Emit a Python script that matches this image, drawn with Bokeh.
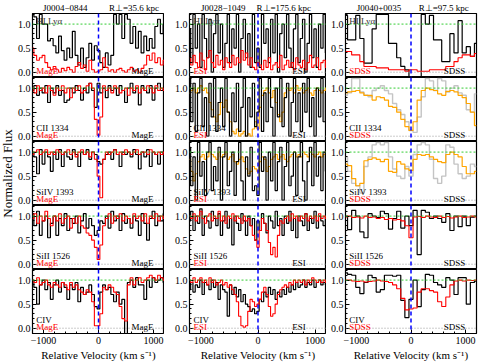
import math
from bokeh.plotting import figure
from bokeh.layouts import gridplot, row
from bokeh.models import Span, Label, FixedTicker, Range1d, PrintfTickFormatter
from bokeh.embed import file_html
from bokeh.resources import INLINE

# ---------------- velocity grids (km/s) ----------------
vel_mage = [-1200, -1150, -1100, -1050, -1000, -950, -900, -850, -800, -750,
            -700, -650, -600, -550, -500, -450, -400, -350, -300, -250,
            -200, -150, -100, -50, 0, 50, 100, 150, 200, 250,
            300, 350, 400, 450, 500, 550, 600, 650, 700, 750,
            800, 850, 900, 950, 1000, 1050, 1100, 1150, 1200]
vel_esi = [-1200, -1160, -1120, -1080, -1040, -1000, -960, -920, -880, -840,
           -800, -760, -720, -680, -640, -600, -560, -520, -480, -440,
           -400, -360, -320, -280, -240, -200, -160, -120, -80, -40,
           0, 40, 80, 120, 160, 200, 240, 280, 320, 360,
           400, 440, 480, 520, 560, 600, 640, 680, 720, 760,
           800, 840, 880, 920, 960, 1000, 1040, 1080, 1120, 1160,
           1200]
vel_sdss = [-1200, -1125, -1050, -975, -900, -825, -750, -675, -600, -525,
            -450, -375, -300, -225, -150, -75, 0, 75, 150, 225,
            300, 375, 450, 525, 600, 675, 750, 825, 900, 975,
            1050, 1125, 1200]

# ---------------- J0004-0844 (MagE) ----------------
hi1_obj = [1.2, 1.15, 0.7, 1.2, 1.0, 1.0, 0.65, 0.7, 0.55, 0.4,
           0.75, 0.45, 0.25, 0.5, 0.3, 0.85, 0.35, 0.15, 0.5, 0.1,
           0.3, 0.6, 0.25, 0.55, 0.45, 0.2, 0.1, 0.4, 0.15, 0.35,
           1.2, 1.0, 1.2, 0.7, 1.2, 1.1, 0.6, 0.95, 0.5, 0.85,
           0.4, 0.75, 0.45, 0.7, 0.5, 0.95, 1.1, 0.8, 1.0]
hi1_cmp = [0.5, 0.35, 0.25, 0.3, 0.35, 0.2, 0.1, 0.05, 0.12, 0.05,
           0.0, 0.08, 0.03, 0.1, 0.05, 0.0, 0.12, 0.2, 0.08, 0.15,
           0.02, 0.25, 0.05, 0.0, 0.02, 0.05, 0.3, 0.1, 0.02, 0.05,
           0.0, 0.05, 0.08, 0.03, 0.0, 0.05, 0.1, 0.02, 0.05, 0.0,
           0.08, 0.15, 0.35, 0.25, 0.4, 0.2, 0.3, 0.15, 0.25]
c2_1_obj = [0.95, 1.05, 0.85, 1.0, 0.9, 1.05, 0.7, 1.0, 0.9, 1.05,
            0.85, 0.95, 0.7, 0.75, 1.0, 0.9, 1.05, 0.95, 0.75, 1.0,
            0.9, 1.1, 0.95, 0.6, 1.1, 0.9, 1.0, 0.8, 1.05, 0.95,
            1.0, 0.85, 1.05, 0.95, 0.7, 1.0, 1.1, 0.9, 1.0, 0.65,
            1.05, 0.95, 0.9, 1.05, 0.75, 1.0, 1.1, 0.95, 1.0]
c2_1_cmp = [1.0, 0.9, 1.05, 0.95, 1.0, 0.9, 1.05, 0.95, 0.85, 1.0,
            0.95, 1.05, 0.9, 1.0, 0.8, 1.0, 0.95, 1.05, 0.9, 0.95,
            1.05, 1.1, 1.0, 0.35, 0.02, 0.4, 1.05, 0.95, 1.0, 0.9,
            1.05, 1.0, 0.9, 0.95, 1.0, 0.85, 1.0, 0.95, 1.05, 0.9,
            1.0, 0.95, 1.05, 1.0, 0.9, 1.05, 0.95, 1.0, 0.95]
s4_1_obj = [1.0, 0.9, 0.55, 1.05, 0.75, 1.0, 0.9, 0.6, 1.0, 0.85,
            1.05, 0.7, 1.0, 0.9, 0.85, 1.05, 0.95, 0.7, 1.0, 0.95,
            1.05, 0.85, 1.0, 0.95, 0.8, 0.75, 0.85, 0.95, 1.0, 0.85,
            1.05, 0.95, 0.7, 1.0, 0.95, 1.0, 0.9, 1.05, 0.95, 0.65,
            1.0, 0.9, 1.05, 0.7, 1.0, 0.95, 0.75, 1.0, 0.95]
s4_1_cmp = [0.95, 1.0, 1.05, 0.95, 1.0, 1.05, 0.95, 1.0, 0.95, 1.05,
            1.0, 0.95, 1.0, 1.05, 0.95, 1.0, 0.9, 1.0, 1.05, 0.95,
            1.0, 0.9, 1.0, 0.85, 0.5, 0.05, 0.85, 1.0, 0.95, 1.0,
            1.05, 0.95, 1.0, 0.95, 1.05, 1.0, 0.95, 1.0, 1.05, 0.95,
            1.0, 1.0, 0.95, 1.05, 1.0, 0.95, 1.0, 0.95, 1.0]
s2_1_obj = [1.05, 0.8, 1.1, 0.6, 0.9, 1.0, 0.55, 0.85, 1.0, 0.6,
            0.95, 0.8, 1.05, 0.7, 0.95, 0.85, 1.0, 0.65, 0.9, 1.05,
            0.75, 0.95, 0.8, 0.6, 0.7, 0.9, 0.85, 1.0, 0.75, 1.1,
            0.9, 1.0, 0.7, 1.05, 0.85, 0.95, 0.75, 1.0, 0.9, 0.6,
            1.05, 0.85, 0.5, 0.95, 1.1, 0.8, 1.0, 0.9, 1.05]
s2_1_cmp = [0.95, 1.05, 0.85, 1.0, 0.9, 1.1, 0.95, 0.8, 1.0, 0.9,
            1.05, 0.85, 0.95, 1.0, 0.75, 0.95, 0.85, 1.0, 0.8, 0.75,
            0.65, 0.6, 0.5, 0.35, 0.1, 0.4, 0.8, 0.95, 1.05, 0.85,
            1.0, 0.95, 1.05, 0.9, 1.0, 0.95, 0.85, 1.05, 0.95, 1.0,
            0.9, 1.05, 0.85, 1.0, 0.95, 1.05, 0.9, 1.0, 0.95]
c4_1_obj = [1.0, 0.85, 0.5, 0.9, 1.0, 0.8, 0.95, 0.6, 0.9, 1.0,
            0.75, 0.95, 0.85, 0.6, 0.9, 0.8, 0.95, 0.55, 0.85, 0.7,
            0.75, 0.9, 0.7, 0.45, 0.4, 0.75, 0.9, 0.8, 0.85, 0.7,
            0.55, 0.75, 0.5, 0.6, -0.15, 0.95, 1.0, 0.85, 1.05, 0.9,
            0.9, 0.6, 1.0, 0.85, 1.05, 0.95, 1.0, 1.05, 0.95]
c4_1_cmp = [1.0, 0.95, 1.05, 0.9, 0.95, 1.0, 0.9, 0.85, 0.95, 0.9,
            0.85, 0.95, 0.9, 0.8, 0.95, 0.85, 0.9, 0.8, 0.75, 0.7,
            0.8, 0.75, 0.55, 0.05, 0.05, 0.3, 0.85, 0.8, 0.9, 0.85,
            0.75, 0.7, 0.45, 0.2, 0.15, 0.9, 1.05, 0.9, 1.0, 1.05,
            0.95, 1.0, 1.05, 1.1, 1.05, 1.0, 1.1, 1.05, 1.0]

# ---------------- J0028-1049 (ESI) ----------------
hi2_obj = [0.9, 0.2, 1.2, 0.5, 1.0, 0.1, 1.2, 0.7, 0.3, 1.1,
           0.0, 0.8, 1.2, 0.4, 1.0, 0.1, 0.6, 1.2, 0.2, 0.9,
           0.5, 1.2, 0.0, 0.7, 1.1, 0.3, 0.8, 0.1, 1.2, 0.2,
           0.5, 0.1, 1.2, 0.6, 0.9, 0.2, 1.1, 0.4, 1.2, 0.0,
           0.8, 1.0, 0.3, 1.2, 0.5, 0.1, 0.9, 1.2, 0.2, 0.7,
           1.1, 0.0, 0.6, 1.2, 0.3, 0.9, 0.1, 1.0, 0.5, 1.2,
           0.4]
hi2_cmp = [0.3, 0.15, 0.35, 0.2, 0.1, 0.4, 0.25, 0.05, 0.3, 0.45,
           0.2, 0.1, 0.35, 0.15, 0.25, 0.05, 0.3, 0.2, 0.1, 0.35,
           0.15, 0.3, 0.2, 0.45, 0.25, 0.4, 0.15, 0.3, 0.1, 0.05,
           0.2, 0.15, 0.05, 0.25, 0.1, 0.3, 0.05, 0.15, 0.2, 0.1,
           0.35, 0.05, 0.15, 0.25, 0.1, 0.2, 0.05, 0.3, 0.15, 0.1,
           0.25, 0.05, 0.2, 0.35, 0.1, 0.15, 0.3, 0.05, 0.2, 0.25,
           0.1]
c2_2_obj = [1.2, 0.3, 1.1, 0.1, 0.9, 1.2, 0.2, 0.8, 0.0, 1.1,
            0.4, 1.2, 0.1, 0.7, 1.0, 0.2, 1.2, 0.5, 0.0, 0.9,
            0.3, 1.1, 0.1, 0.6, 1.2, 0.0, 0.8, 0.4, 1.1, 0.2,
            0.5, 1.2, 0.1, 0.9, 0.3, 1.2, 0.6, 0.0, 1.0, 0.4,
            1.2, 0.2, 0.8, 1.1, 0.0, 0.7, 1.2, 0.3, 0.9, 0.1,
            1.1, 0.5, 1.2, 0.2, 0.8, 0.0, 1.0, 0.4, 1.2, 0.3,
            0.9]
c2_2_alt = [0.9, 0.95, 1.0, 0.9, 1.0, 1.05, 0.95, 1.0, 0.9, 0.7,
            0.55, 0.4, 0.3, 0.45, 0.7, 0.6, 0.75, 0.5, 0.3, 0.1,
            0.05, 0.15, 0.0, 0.05, 0.1, 0.0, 0.05, 0.0, 0.15, 0.3,
            0.15, 0.6, 0.85, 0.95, 1.0, 0.9, 0.8, 0.95, 0.7, 0.45,
            0.3, 0.5, 0.9, 1.0, 0.95, 1.0, 0.9, 1.05, 0.95, 1.0,
            0.9, 0.95, 1.0, 0.9, 0.85, 0.95, 1.0, 0.95, 0.9, 0.95,
            1.0]
s4_2_obj = [1.1, 0.3, 0.9, 0.0, 1.2, 0.5, 0.8, 0.1, 1.0, 1.2,
            0.2, 0.7, 0.4, 1.1, 0.0, 0.9, 1.2, 0.3, 0.6, 1.0,
            0.1, 0.8, 1.2, 0.4, 0.0, 0.9, 0.5, 1.1, 0.2, 0.3,
            0.1, 1.2, 0.6, 0.9, 0.0, 1.0, 0.4, 1.2, 0.2, 0.8,
            1.1, 0.0, 0.7, 1.2, 0.3, 0.5, 1.0, 0.1, 0.9, 1.2,
            0.4, 0.0, 0.8, 1.1, 0.3, 1.2, 0.5, 0.9, 0.2, 1.0,
            0.6]
s4_2_alt = [0.85, 0.6, 0.4, 0.55, 0.8, 0.9, 0.95, 0.85, 0.9, 1.0,
            0.95, 0.9, 0.85, 1.0, 0.9, 0.95, 1.0, 0.85, 0.9, 0.95,
            0.8, 0.75, 0.85, 0.9, 0.8, 0.65, 0.55, 0.6, 0.7, 0.65,
            0.6, 0.8, 0.9, 0.85, 0.6, 0.7, 0.85, 0.9, 0.95, 0.85,
            0.9, 0.95, 0.85, 0.8, 0.9, 0.95, 1.0, 0.9, 0.95, 0.9,
            1.0, 0.95, 0.9, 1.0, 0.95, 0.9, 0.95, 1.0, 0.9, 0.95,
            1.0]
s2_2_obj = [0.9, 1.1, 0.7, 1.0, 0.85, 1.15, 0.6, 1.0, 0.9, 0.75,
            1.1, 0.95, 0.8, 1.05, 0.6, 0.9, 1.1, 0.75, 0.95, 0.4,
            1.0, 0.85, 0.7, 1.05, 0.9, 0.6, 1.0, 0.8, 0.95, 0.5,
            0.9, 0.7, 1.05, 0.85, 0.65, 1.0, 0.9, 0.75, 1.1, 0.8,
            0.95, 0.6, 1.0, 0.85, 1.1, 0.7, 0.95, 0.55, 1.0, 0.9,
            0.8, 1.05, 0.7, 0.95, 0.85, 1.1, 0.75, 1.0, 0.9, 0.8,
            1.0]
s2_2_cmp = [1.0, 0.95, 1.05, 0.9, 1.0, 1.1, 0.95, 0.85, 1.0, 1.05,
            0.9, 1.0, 0.95, 1.1, 0.9, 1.0, 0.85, 1.0, 0.95, 1.05,
            0.9, 1.0, 0.95, 0.85, 1.0, 0.9, 0.95, 0.8, 0.6, 0.5,
            0.35, 0.7, 0.95, 0.85, 0.7, 0.45, 0.2, 0.35, 0.15, 0.6,
            0.9, 0.85, 0.95, 1.0, 0.9, 1.05, 0.95, 1.0, 0.9, 1.0,
            0.95, 1.05, 0.9, 1.0, 0.95, 1.0, 0.9, 1.05, 0.95, 1.0,
            0.95]
c4_2_obj = [0.8, 0.95, 0.75, 0.9, 0.85, 1.0, 0.7, 0.95, 0.9, 0.8,
            1.0, 0.85, 0.95, 0.6, 0.9, 0.8, 0.75, 0.25, 0.9, 0.7,
            0.85, 0.65, 0.8, 0.55, 0.7, 0.5, 0.45, 0.35, 0.4, 0.3,
            0.35, 0.6, 0.55, 0.75, 0.65, 0.85, 0.7, 0.8, 0.6, 0.75,
            0.65, 0.8, 0.7, 0.85, 0.75, 0.9, 0.8, 0.95, 0.85, 0.9,
            1.0, 0.85, 0.95, 0.9, 1.0, 0.85, 0.95, 1.0, 0.9, 0.95,
            0.9]
c4_2_cmp = [1.0, 0.95, 1.05, 0.95, 1.0, 1.05, 0.95, 1.0, 0.9, 1.05,
            0.95, 1.0, 0.9, 0.95, 1.0, 0.9, 0.95, 0.85, 0.9, 0.8,
            0.7, 0.55, 0.25, 0.05, 0.02, 0.05, 0.35, 0.6, 0.55, 0.45,
            0.5, 0.6, 0.75, 0.85, 0.7, 0.45, 0.25, 0.3, 0.5, 0.7,
            0.8, 0.85, 0.9, 0.85, 0.95, 0.9, 1.0, 0.95, 1.0, 0.95,
            1.0, 0.9, 1.0, 0.95, 1.05, 1.0, 0.95, 1.0, 0.95, 1.0,
            0.95]

# ---------------- J0040+0035 (SDSS) ----------------
hi3_obj = [1.18, 0.67, 0.67, 1.18, 0.7, 0.19, 0.19, 0.9, 1.2, 1.2,
           1.2, 0.6, 0.6, 0.3, 0.12, 0.05, -0.15, -0.15, -0.15, 1.2,
           1.0, 1.18, 0.67, 0.67, 0.22, 0.22, 0.8, 0.4, 1.07, 0.4,
           0.53, 0.33, 0.6]
hi3_cmp = [0.43, 0.43, 0.36, 0.36, 0.22, 0.12, 0.12, 0.12, 0.09, 0.09,
           0.09, 0.05, 0.05, 0.05, 0.05, 0.02, 0.05, 0.05, 0.02, 0.02,
           0.02, 0.05, 0.05, 0.05, 0.05, 0.12, 0.12, 0.22, 0.3, 0.36,
           0.36, 0.33, 0.39]
c2_3_gray = [0.85, 0.9, 1.2, 1.2, 0.92, 0.85, 0.82, 0.95, 1.0, 1.05,
             0.95, 0.88, 0.68, 0.55, 0.45, 0.3, 0.12, 0.08, 0.4, 0.82,
             1.2, 1.15, 0.95, 1.2, 1.15, 0.92, 1.0, 1.05, 0.9, 0.85,
             0.55, 0.5, 0.88]
c2_3_alt = [0.9, 0.92, 0.93, 0.95, 0.9, 0.85, 0.85, 0.75, 0.82, 0.8,
            0.75, 0.62, 0.6, 0.5, 0.35, 0.2, 0.12, 0.3, 0.75, 0.95,
            1.0, 0.97, 0.95, 0.88, 0.85, 0.93, 0.95, 0.92, 0.85, 0.8,
            0.68, 0.5, 0.22]
s4_3_gray = [0.9, 0.6, 0.35, 0.3, 0.15, 0.7, 0.9, 1.15, 1.2, 1.15,
             1.2, 0.9, 0.65, 0.5, 0.45, 0.7, 0.5, 0.95, 1.15, 1.2,
             1.15, 0.85, 0.45, 0.35, 0.5, 1.15, 1.1, 0.75, 0.55, 0.45,
             0.5, 0.75, 0.7]
s4_3_alt = [0.75, 0.72, 0.45, 0.3, 0.35, 0.82, 0.85, 0.88, 0.85, 0.8,
            0.85, 0.6, 0.58, 0.8, 0.75, 0.65, 0.62, 0.85, 0.95, 0.93,
            0.95, 0.9, 0.85, 0.8, 0.78, 0.95, 1.0, 0.95, 0.9, 0.7,
            0.55, 0.55, 0.6]
s2_3_obj = [1.0, 0.72, 1.12, 1.0, 0.67, 0.55, 1.05, 1.0, 0.97, 1.1,
            1.05, 0.73, 0.95, 1.1, 0.75, 1.0, 0.8, 1.12, 0.2, 1.12,
            1.08, 0.95, 1.0, 0.95, 0.87, 1.05, 0.7, 1.0, 0.78, 1.0,
            0.8, 0.98, 1.0]
s2_3_cmp = [0.98, 1.0, 0.97, 0.98, 0.96, 1.0, 0.97, 0.98, 0.95, 0.97,
            0.93, 0.95, 0.92, 0.93, 0.9, 0.8, 0.55, 0.98, 0.99, 0.97,
            1.0, 0.98, 0.97, 1.0, 0.97, 0.99, 0.96, 0.98, 1.0, 0.97,
            0.98, 1.0, 0.98]
c4_3_obj = [1.15, 1.12, 1.1, 0.85, 0.72, 0.95, 1.1, 1.05, 0.75, 0.8,
            1.1, 1.1, 1.08, 1.1, 0.58, 0.22, 0.6, 1.0, 0.45, 0.8,
            1.12, 1.1, 0.95, 0.9, 0.85, 1.05, 1.0, 0.7, 1.05, 1.05,
            0.5, 0.95, 0.98]
c4_3_cmp = [1.0, 1.0, 0.98, 0.97, 0.98, 0.96, 0.97, 0.98, 1.0, 0.98,
            0.97, 0.95, 0.9, 0.82, 0.62, 0.38, 0.4, 0.42, 0.75, 0.82,
            0.82, 0.78, 0.75, 0.55, 0.45, 0.65, 0.9, 0.98, 1.0, 0.98,
            1.0, 0.99, 1.0]

# ---------------- labels ----------------
sightlines = ["J0004\u22120844", "J0028\u22121049", "J0040+0035"]
impact = ["R\u22a5=35.6 kpc", "R\u22a5=175.6 kpc", "R\u22a5=97.5 kpc"]
instruments = ["MagE", "ESI", "SDSS"]
ions = ["HI Ly\u03b1", "CII 1334", "SiIV 1393", "SiII 1526", "CIV"]
y_ticks = [0.0, 0.5, 1.0]
x_ticks = [-1000, 0, 1000]

STYLE = {"black": ("black", 1.2), "red": ("#ff0000", 1.1),
         "orange": ("#ffa500", 1.2), "gray": ("#c4c4c4", 1.4)}

columns = [
    (vel_mage, [[(hi1_obj, "black"), (hi1_cmp, "red")],
                [(c2_1_obj, "black"), (c2_1_cmp, "red")],
                [(s4_1_obj, "black"), (s4_1_cmp, "red")],
                [(s2_1_obj, "black"), (s2_1_cmp, "red")],
                [(c4_1_obj, "black"), (c4_1_cmp, "red")]]),
    (vel_esi, [[(hi2_obj, "black"), (hi2_cmp, "red")],
               [(c2_2_alt, "orange"), (c2_2_obj, "black")],
               [(s4_2_alt, "orange"), (s4_2_obj, "black")],
               [(s2_2_obj, "black"), (s2_2_cmp, "red")],
               [(c4_2_obj, "black"), (c4_2_cmp, "red")]]),
    (vel_sdss, [[(hi3_obj, "black"), (hi3_cmp, "red")],
                [(c2_3_gray, "gray"), (c2_3_alt, "orange")],
                [(s4_3_gray, "gray"), (s4_3_alt, "orange")],
                [(s2_3_obj, "black"), (s2_3_cmp, "red")],
                [(c4_3_obj, "black"), (c4_3_cmp, "red")]]),
]

FONT = "Liberation Serif"
FRAME_W = [132, 137, 131]
BORDER_L = [17, 25, 19]
BORDER_R = [0, 0, 2]
FRAME_H = 64
TITLE_H = 13
title_nx = [-1010, -1000, -995]      # left end of the sight-line name
title_rx = [1100, 930, 1060]         # right end of the impact parameter

grid = []

# title row (same geometry as the panels below it)
title_row = []
for c in range(3):
    t = figure(frame_width=FRAME_W[c], frame_height=TITLE_H,
               x_range=Range1d(-1200, 1200), y_range=Range1d(0, 1),
               output_backend="svg", toolbar_location=None,
               min_border=0, min_border_left=BORDER_L[c], min_border_right=BORDER_R[c])
    t.axis.visible = False
    t.grid.visible = False
    t.outline_line_color = None
    t.add_layout(Label(x=title_nx[c], y=0.45, text=sightlines[c], text_font=FONT,
                       text_font_size="9px", text_color="black",
                       text_align="left", text_baseline="middle"))
    t.add_layout(Label(x=title_rx[c], y=0.45, text=impact[c], text_font=FONT,
                       text_font_size="9px", text_color="black",
                       text_align="right", text_baseline="middle"))
    title_row.append(t)
grid.append(title_row)

for r in range(5):
    row_figs = []
    for c in range(3):
        vel, panels = columns[c]
        p = figure(frame_width=FRAME_W[c], frame_height=FRAME_H,
                   x_range=Range1d(-1200, 1200), y_range=Range1d(-0.11, 1.22),
                   output_backend="svg", toolbar_location=None,
                   min_border=0, min_border_left=BORDER_L[c],
                   min_border_right=BORDER_R[c])
        p.grid.visible = False
        p.outline_line_color = "black"
        p.outline_line_width = 1.2
        # y axis
        p.yaxis.ticker = FixedTicker(ticks=y_ticks,
                                     minor_ticks=[-0.1, 0.1, 0.2, 0.3, 0.4, 0.6, 0.7, 0.8, 0.9, 1.1, 1.2])
        p.yaxis.formatter = PrintfTickFormatter(format="%.1f")
        p.yaxis.axis_line_color = None
        p.yaxis.major_tick_in = 4
        p.yaxis.major_tick_out = 0
        p.yaxis.minor_tick_in = 2
        p.yaxis.minor_tick_out = 0
        p.yaxis.major_label_standoff = 2
        p.yaxis.major_label_text_font = FONT
        p.yaxis.major_label_text_font_size = "10px"
        p.yaxis.major_label_text_color = "black"
        # x axis
        if r < 4:
            p.xaxis.visible = False
        else:
            p.xaxis.ticker = FixedTicker(ticks=x_ticks,
                                         minor_ticks=[-1200, -800, -600, -400, -200, 200, 400, 600, 800, 1200])
            p.xaxis.major_label_overrides = {-1000: "\u22121000", 0: "0", 1000: "1000"}
            p.xaxis.axis_line_color = None
            p.xaxis.major_tick_in = 4
            p.xaxis.major_tick_out = 0
            p.xaxis.minor_tick_in = 2
            p.xaxis.minor_tick_out = 0
            p.xaxis.major_label_standoff = 3
            p.xaxis.major_label_text_font = FONT
            p.xaxis.major_label_text_font_size = "10px"
            p.xaxis.major_label_text_color = "black"
            p.xaxis.axis_label = "Relative Velocity (km s\u207b\u00b9)"
            p.xaxis.axis_label_text_font = FONT
            p.xaxis.axis_label_text_font_size = "11px"
            p.xaxis.axis_label_text_font_style = "normal"
            p.xaxis.axis_label_text_color = "black"
            p.xaxis.axis_label_standoff = 2

        for flux, kind in panels[r]:
            color, lw = STYLE[kind]
            p.step(x=vel, y=flux, mode="center", line_color=color, line_width=lw)

        p.add_layout(Span(location=0.0, dimension="width", line_color="#9a9a9a",
                          line_dash="1 2", line_width=1))
        p.add_layout(Span(location=1.0, dimension="width", line_color="#33cc33",
                          line_dash="2 2", line_width=1))
        p.add_layout(Span(location=0, dimension="height", line_color="#0000ff",
                          line_dash="4 3", line_width=1.5))

        if r == 0:
            p.add_layout(Label(x=-1130, y=1.06, text=ions[0], text_font=FONT,
                               text_font_size="9px", text_color="#333333",
                               text_baseline="middle"))
        else:
            p.add_layout(Label(x=-1130, y=0.17, text=ions[r], text_font=FONT,
                               text_font_size="9px", text_color="black",
                               text_baseline="middle"))
        p.add_layout(Label(x=-1130, y=0.03, text=instruments[c], text_font=FONT,
                           text_font_size="9px", text_color="#ff0000",
                           text_baseline="middle"))
        p.add_layout(Label(x=600, y=0.03, text=instruments[c], text_font=FONT,
                           text_font_size="9px", text_color="black",
                           text_baseline="middle"))
        row_figs.append(p)
    grid.append(row_figs)

gp = gridplot(grid, toolbar_location=None)

# y-axis title panel
TOTAL_H = TITLE_H + 5 * FRAME_H + 29
yfig = figure(width=14, height=TOTAL_H, x_range=(0, 1), y_range=(0, 1),
              output_backend="svg", toolbar_location=None, min_border=0)
yfig.axis.visible = False
yfig.grid.visible = False
yfig.outline_line_color = None
yfig.add_layout(Label(x=0.5, y=1 - (TITLE_H + 2.5 * FRAME_H) / TOTAL_H,
                      text="Normalized Flux", angle=math.pi / 2,
                      text_font=FONT, text_font_size="13px", text_color="black",
                      text_align="center", text_baseline="middle"))

layout = row(yfig, gp)
open("out.html", "w").write(file_html(layout, INLINE))
